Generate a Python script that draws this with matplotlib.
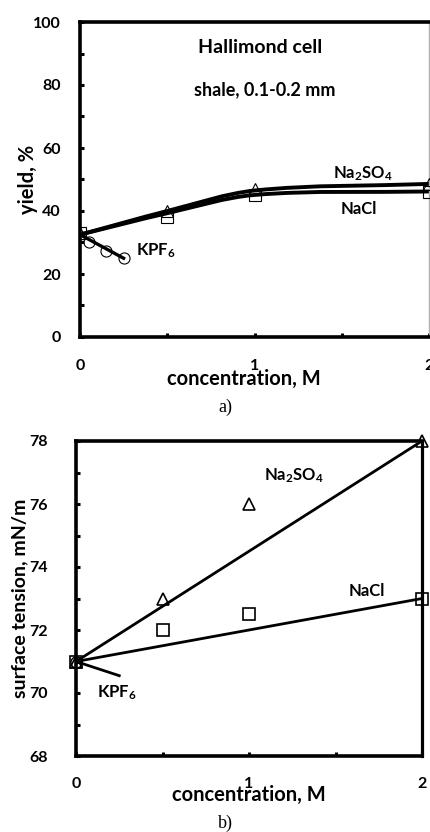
import numpy as np
import matplotlib
matplotlib.use('Agg')
import matplotlib.pyplot as plt
from matplotlib.path import Path
from matplotlib.patches import PathPatch
from matplotlib.ticker import MultipleLocator

plt.rcParams['font.family'] = ['Lato', 'DejaVu Sans']
plt.rcParams['font.weight'] = 'bold'
plt.rcParams['axes.labelweight'] = 'bold'
plt.rcParams['mathtext.fontset'] = 'custom'
plt.rcParams['mathtext.rm'] = 'Lato:bold'
plt.rcParams['mathtext.it'] = 'Lato:bold'
plt.rcParams['mathtext.bf'] = 'Lato:bold'

# a) flotation yield, Hallimond cell
conc_a = [0, 0.5, 1, 2]
yield_na2so4 = [33, 40, 47, 48.6]
yield_nacl = [33, 38.2, 45.1, 46.1]
# smoothed trend curves (values read at the same concentrations)
curve_na2so4 = [32.5, 40, 46.5, 48.6]
curve_nacl = [32.5, 39.3, 45.1, 46.2]
conc_kpf6_a = [0.05, 0.15, 0.25]
yield_kpf6 = [30.3, 27.4, 25]
conc_kpf6_line = [0, 0.25]
curve_kpf6 = [32.5, 25]

# b) surface tension
conc_b = [0, 0.5, 1, 2]
st_na2so4 = [71, 73, 76, 78]
st_nacl = [71, 72, 72.5, 73]
conc_fit = [0, 2]
fit_na2so4 = [71, 78]
fit_nacl = [71, 73]
conc_kpf6_b = [0, 0.25]
st_kpf6 = [71, 70.55]

W, H = 430, 832


def smooth(ax, xs, ys, lw):
    # smoothed line: cubic Hermite (non-uniform Catmull-Rom slopes) as Beziers
    x = np.asarray(xs, float)
    y = np.asarray(ys, float)
    n = len(x)
    m = np.empty(n)
    m[0] = (y[1] - y[0]) / (x[1] - x[0])
    m[-1] = (y[-1] - y[-2]) / (x[-1] - x[-2])
    for i in range(1, n - 1):
        m[i] = (y[i + 1] - y[i - 1]) / (x[i + 1] - x[i - 1])
    verts = [(x[0], y[0])]
    codes = [Path.MOVETO]
    for i in range(n - 1):
        h = (x[i + 1] - x[i]) / 3
        verts += [(x[i] + h, y[i] + m[i] * h),
                  (x[i + 1] - h, y[i + 1] - m[i + 1] * h),
                  (x[i + 1], y[i + 1])]
        codes += [Path.CURVE4] * 3
    ax.add_patch(PathPatch(Path(verts, codes), fill=False, lw=lw,
                           edgecolor='black', zorder=2))


def style(ax, right_color='black', right_lw=2.3):
    for s in ['left', 'bottom', 'top']:
        ax.spines[s].set_linewidth(2.6)
    ax.spines['right'].set_linewidth(right_lw)
    ax.spines['right'].set_color(right_color)
    ax.tick_params(which='both', direction='in', width=2.2,
                   right=False, top=False, labelsize=11.5)
    ax.tick_params(which='major', length=3)
    ax.tick_params(which='minor', length=3)


fig = plt.figure(figsize=(W / 100, H / 100), dpi=100)

# ---------- a) ----------
ax1 = fig.add_axes([80 / W, (H - 337) / H, 349 / W, 315 / H])
smooth(ax1, conc_a, curve_na2so4, 2.8)
smooth(ax1, conc_a, curve_nacl, 2.8)
ax1.plot(conc_kpf6_line, curve_kpf6, color='black', lw=2.4, zorder=2)
ax1.plot(conc_a, yield_na2so4, ls='none', marker='^', ms=8, mfc='none',
         mec='black', mew=0.8, zorder=3)
ax1.plot(conc_a, yield_nacl, ls='none', marker='s', ms=8, mfc='none',
         mec='black', mew=0.8, zorder=3)
ax1.plot(conc_kpf6_a, yield_kpf6, ls='none', marker='o', ms=8, mfc='none',
         mec='black', mew=0.8, zorder=3)
ax1.set_xlim(0, 2)
ax1.set_ylim(0, 100)
ax1.xaxis.set_major_locator(MultipleLocator(1))
ax1.xaxis.set_minor_locator(MultipleLocator(0.5))
ax1.yaxis.set_major_locator(MultipleLocator(20))
ax1.yaxis.set_minor_locator(MultipleLocator(10))
style(ax1, right_color='#b0b0b0', right_lw=1.0)
ax1.tick_params(axis='x', pad=16)
ax1.tick_params(axis='y', pad=14)
ax1.set_xlabel('concentration, M', fontsize=14.5)
ax1.set_ylabel('yield, %', fontsize=14.5)
ax1.xaxis.label.set_va('center')
ax1.yaxis.label.set_va('center')
ax1.xaxis.set_label_coords(0.47, -0.133)
ax1.yaxis.set_label_coords(-0.149, 0.5)
ax1.text(1.03, 92, 'Hallimond cell', ha='center', va='center', fontsize=14)
ax1.text(1.06, 78.5, 'shale, 0.1-0.2 mm', ha='center', va='center', fontsize=13)
ax1.text(1.62, 52, 'Na$_2$SO$_4$', ha='center', va='center', fontsize=12)
ax1.text(1.6, 40.5, 'NaCl', ha='center', va='center', fontsize=12)
ax1.text(0.32, 27.5, 'KPF$_6$', ha='left', va='center', fontsize=12)
fig.text(225 / W, 1 - 407 / H, 'a)', ha='center', va='center', fontsize=13,
         family='Liberation Serif', weight='normal')

# ---------- b) ----------
ax2 = fig.add_axes([76 / W, (H - 756) / H, 346 / W, 315 / H])
ax2.plot(conc_fit, fit_na2so4, color='black', lw=2.0, zorder=2)
ax2.plot(conc_fit, fit_nacl, color='black', lw=2.0, zorder=2)
ax2.plot(conc_kpf6_b, st_kpf6, color='black', lw=2.0, zorder=2)
ax2.plot(conc_b, st_na2so4, ls='none', marker='^', ms=8, mfc='none',
         mec='black', mew=1.2, zorder=3, clip_on=False)
ax2.plot(conc_b, st_nacl, ls='none', marker='s', ms=8, mfc='none',
         mec='black', mew=1.2, zorder=3, clip_on=False)
ax2.plot(conc_kpf6_b[:1], st_kpf6[:1], ls='none', marker='o', ms=8,
         mfc='none', mec='black', mew=1.0, zorder=3, clip_on=False)
ax2.set_xlim(0, 2)
ax2.set_ylim(68, 78)
ax2.xaxis.set_major_locator(MultipleLocator(1))
ax2.xaxis.set_minor_locator(MultipleLocator(0.5))
ax2.yaxis.set_major_locator(MultipleLocator(2))
ax2.yaxis.set_minor_locator(MultipleLocator(1))
style(ax2)
ax2.tick_params(axis='x', pad=15)
ax2.tick_params(axis='y', pad=20)
ax2.set_xlabel('concentration, M', fontsize=14.5)
ax2.set_ylabel('surface tension, mN/m', fontsize=14)
ax2.xaxis.label.set_va('center')
ax2.yaxis.label.set_va('center')
ax2.xaxis.set_label_coords(0.5, -0.124)
ax2.yaxis.set_label_coords(-0.162, 0.5)
ax2.text(1.26, 76.9, 'Na$_2$SO$_4$', ha='center', va='center', fontsize=12)
ax2.text(1.68, 73.25, 'NaCl', ha='center', va='center', fontsize=12)
ax2.text(0.12, 70.0, 'KPF$_6$', ha='left', va='center', fontsize=12)
fig.text(225 / W, 1 - 823 / H, 'b)', ha='center', va='center', fontsize=13,
         family='Liberation Serif', weight='normal')

fig.savefig('out.png', dpi=100)
